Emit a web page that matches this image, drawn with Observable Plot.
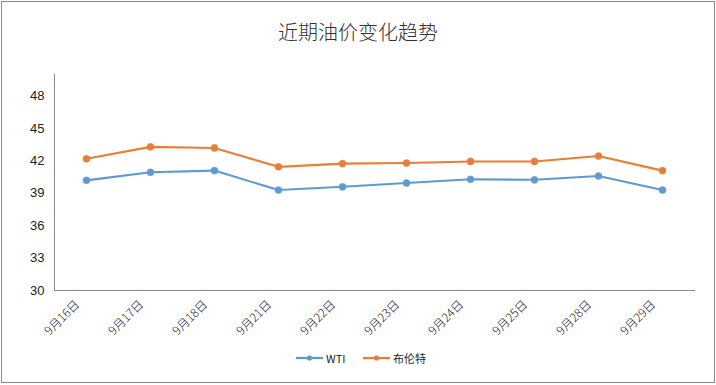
<!DOCTYPE html>
<html><head><meta charset="utf-8">
<script src="https://cdn.jsdelivr.net/npm/d3@7"></script>
<script src="https://cdn.jsdelivr.net/npm/@observablehq/plot@0.6"></script>
<style>
body{margin:0;background:#fff;font-family:"Noto Sans CJK SC",sans-serif;}
#wrap{position:relative;width:716px;height:385px;overflow:hidden;}
#border{position:absolute;left:1px;top:1px;width:712px;height:380px;border:1px solid #8a8a8a;pointer-events:none;}
#title{position:absolute;left:0;width:716px;top:18px;text-align:center;font-size:20px;color:#333;line-height:28px;font-weight:300;}
#legend{position:absolute;top:349px;left:0;width:716px;font-size:11px;color:#222;}
.li{position:absolute;top:0;height:18px;display:flex;align-items:center;}
.li svg{margin-right:3px;}
</style></head>
<body>
<div id="wrap">
<div id="chart"></div>
<div id="title">近期油价变化趋势</div>
<div id="legend"></div>
<div id="border"></div>
</div>
<script>
const dates = ["9月16日","9月17日","9月18日","9月21日","9月22日","9月23日","9月24日","9月25日","9月28日","9月29日"];
const wti   = [40.2, 40.95, 41.1, 39.3, 39.6, 39.95, 40.3, 40.25, 40.6, 39.3];
const brent = [42.2, 43.3, 43.2, 41.45, 41.75, 41.8, 41.95, 41.95, 42.45, 41.1];
const yTicks = [30, 33, 36, 39, 42, 45, 48];
const seriesNames = ["WTI", "布伦特"];
const colors = ["#5B9BD5", "#ED7D31"];

const rows = [];
dates.forEach((d, i) => {
  rows.push({date: d, value: wti[i], series: seriesNames[0]});
  rows.push({date: d, value: brent[i], series: seriesNames[1]});
});

const chart = Plot.plot({
  width: 716, height: 385,
  marginLeft: 54, marginRight: 22, marginTop: 74, marginBottom: 95,
  style: {fontFamily: "'Liberation Sans', 'Noto Sans CJK SC', sans-serif", fontSize: "12px", color: "#222", background: "transparent"},
  x: {type: "band", domain: dates, padding: 0, label: null},
  y: {domain: [30, 50], label: null},
  color: {domain: seriesNames, range: colors},
  marks: [
    Plot.frame({anchor: "left", stroke: "#8a8a8a"}),
    Plot.frame({anchor: "bottom", stroke: "#8a8a8a"}),
    Plot.axisY({ticks: yTicks, tickSize: 0, tickPadding: 10, fontSize: 13, fontFamily: "'Liberation Sans', sans-serif"}),
    Plot.axisX({tickSize: 0, tickRotate: -45, tickPadding: 12, dx: -9, fontSize: 12, fontWeight: 300, fontFamily: "'Noto Sans CJK SC', sans-serif"}),
    Plot.line(rows, {x: "date", y: "value", z: "series", stroke: "series", strokeWidth: 2.1}),
    Plot.dot(rows, {x: "date", y: "value", fill: "series", r: 3.6, stroke: "#a0a0a0", strokeWidth: 0.4})
  ]
});
document.getElementById("chart").appendChild(chart);

const legend = document.getElementById("legend");
const lefts = [296, 363];
seriesNames.forEach((s, i) => {
  const el = document.createElement("div");
  el.className = "li";
  el.style.left = lefts[i] + "px";
  el.innerHTML = `<svg width="27" height="8"><line x1="0" y1="4" x2="27" y2="4" stroke="${colors[i]}" stroke-width="2.25"/><circle cx="13.5" cy="4" r="2.5" fill="${colors[i]}" stroke="#a0a0a0" stroke-width="0.4"/></svg><span>${s}</span>`;
  legend.appendChild(el);
});
</script>
</body></html>
